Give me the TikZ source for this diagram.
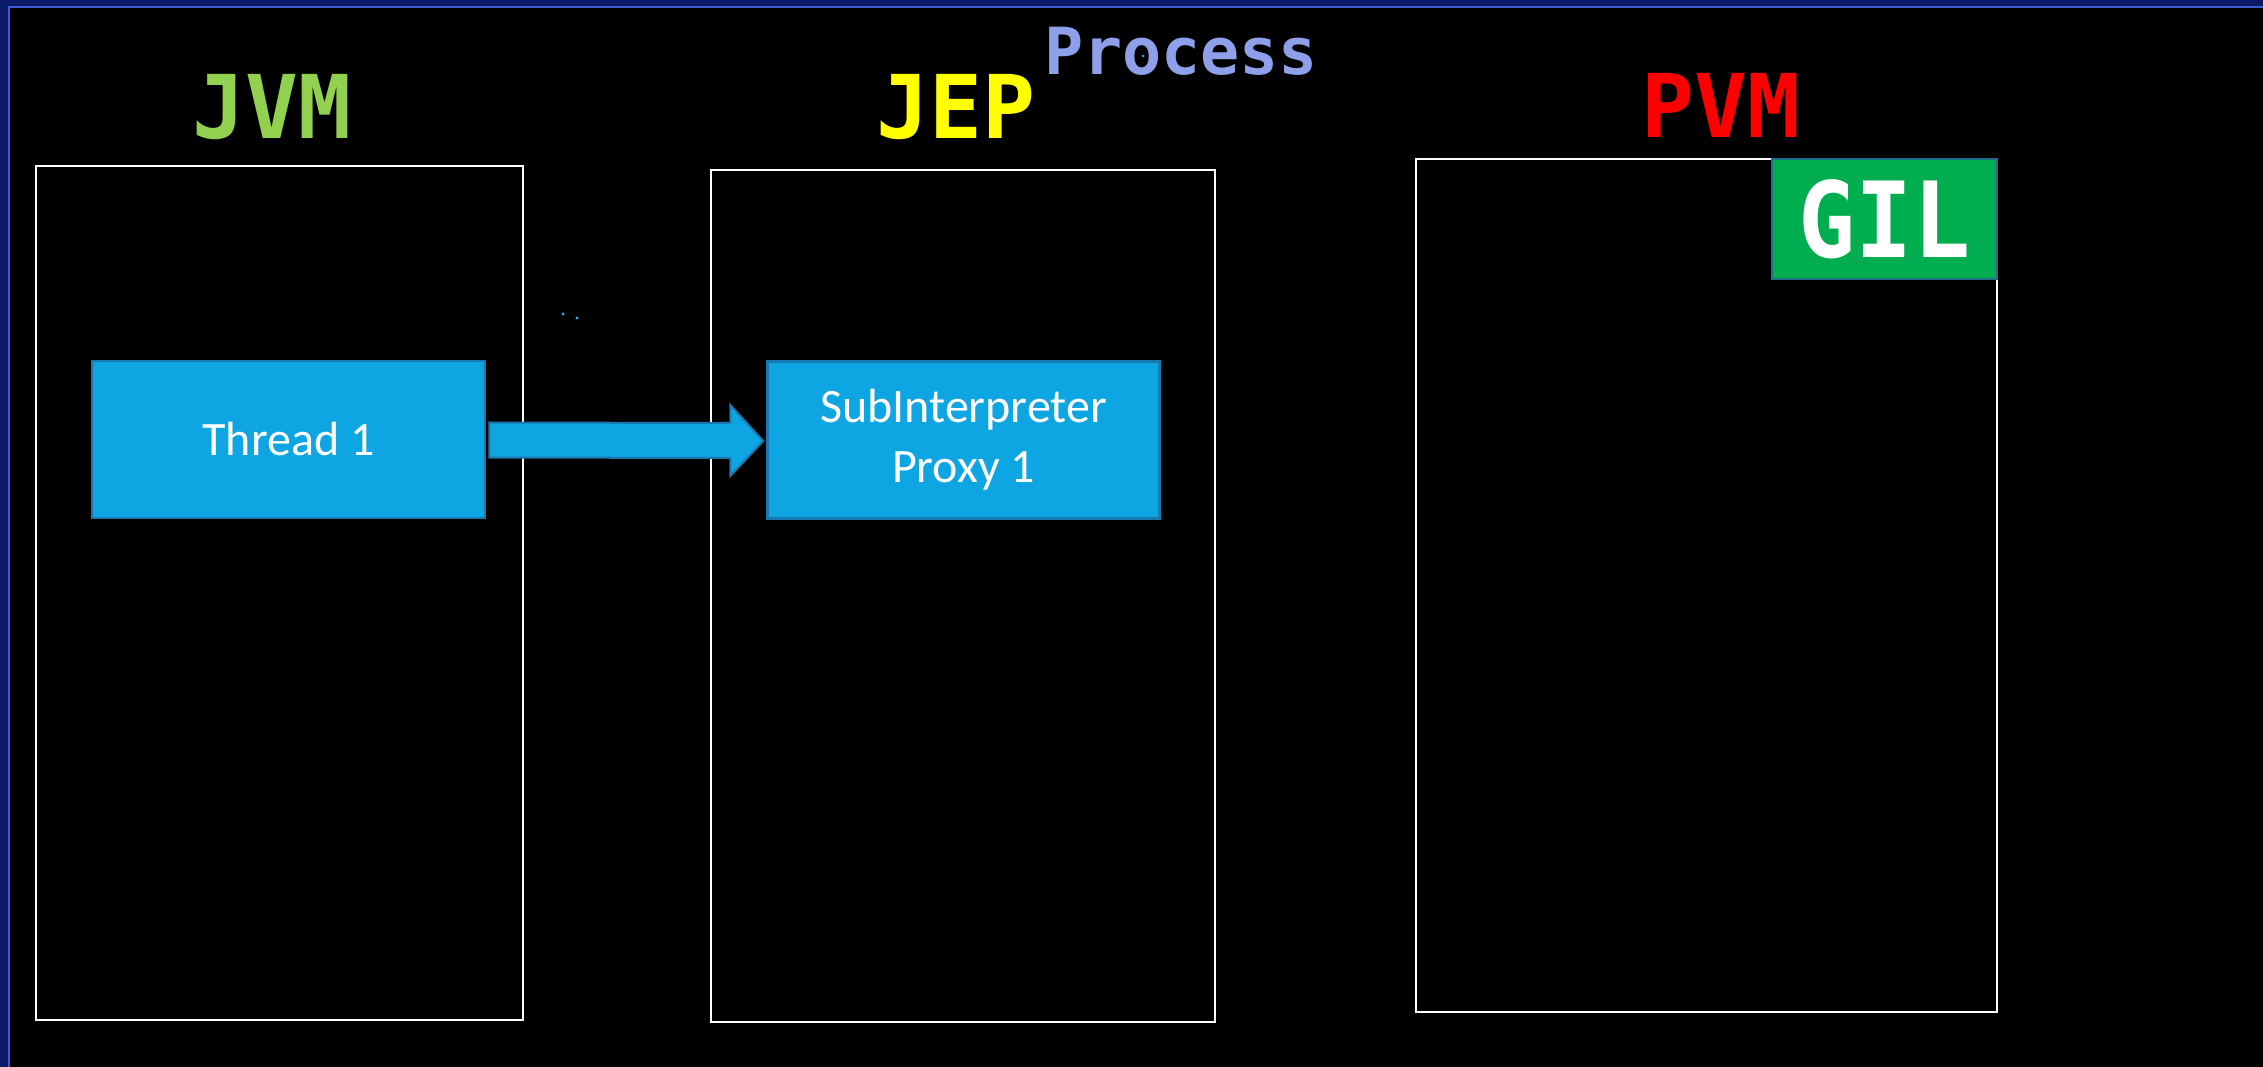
\documentclass[tikz,border=0pt]{standalone}
\usepackage{fontspec}
\setmainfont{Carlito}
\newfontfamily\monofont{DejaVu Sans Mono}
\usetikzlibrary{calc}
\definecolor{navy}{HTML}{0B1A66}
\definecolor{frameline}{HTML}{3D5BD0}
\definecolor{procc}{HTML}{8FA0EA}
\definecolor{jvmc}{HTML}{92D050}
\definecolor{jepc}{HTML}{FFFF00}
\definecolor{pvmc}{HTML}{FF0000}
\definecolor{gilfill}{HTML}{00AD4F}
\definecolor{gilline}{HTML}{1F6F8B}
\definecolor{blkfill}{HTML}{0EA5E3}
\definecolor{blkline}{HTML}{1A78B0}
\definecolor{dotc}{HTML}{29B6E8}
\tikzset{
  panel/.style={draw=white, line width=2.8pt, fill=black, minimum width=#1},
  blk/.style={draw=blkline, fill=blkfill, line width=2.5pt, text=white, align=center,
    font=\fontsize{48}{57}\selectfont, inner sep=0pt},
  title/.style={anchor=base, inner sep=0pt, font=\monofont\bfseries\fontsize{88}{100}\selectfont},
}
\begin{document}
\begin{tikzpicture}[x=1pt,y=-1pt]
\useasboundingbox (0,0) rectangle (2263,1067);
\fill[navy] (0,0) rectangle (2263,1067);
\fill[black] (9,7) rectangle (2263,1067);
\draw[frameline, line width=2.5pt] (9,1067) -- (9,7) -- (2263,7);
% panels
\node[panel=487pt, minimum height=854pt] (jvm) at (279.5,593) {};
\node[panel=504pt, minimum height=852pt] (jep) at (963,596) {};
\node[panel=581pt, minimum height=853pt] (pvm) at (1706.5,585.5) {};
% GIL
\node[draw=gilline, fill=gilfill, line width=2.5pt, minimum width=225pt, minimum height=120pt,
  text=white, font=\monofont\bfseries\fontsize{100}{110}\selectfont, inner sep=0pt] (gil) at (1884.5,219) {\scalebox{0.95}[1.05]{GIL}};
% titles
\node[title, text=jvmc] (tjvm) at (272,139) {JVM};
\node[title, text=jepc] (tjep) at (956,139) {JEP};
\node[title, text=pvmc] (tpvm) at (1721,138) {PVM};
\node[anchor=base, inner sep=0pt, text=procc, font=\monofont\bfseries\fontsize{65}{75}\selectfont] (tproc) at (1181,75) {Process};
% blocks
\node[blk, minimum width=393pt, minimum height=157pt] (t1) at (288.5,439.5) {Thread 1};
\node[blk, minimum width=392pt, minimum height=157pt] (s1) at (963.5,440) {SubInterpreter\\[3pt]Proxy 1};
% arrow
\draw[blkline, fill=blkfill, line width=2pt, line join=miter]
  ($(t1.east)+(3,-17)$) -- ($(s1.west)+(-36,-17)$) -- ($(s1.west)+(-36,-35)$)
  -- ($(s1.west)+(-3,1)$) -- ($(s1.west)+(-36,36)$) -- ($(s1.west)+(-36,18)$)
  -- ($(t1.east)+(3,18)$) -- cycle;
% stray dots
\fill[dotc] (563,314) circle (1.6);
\fill[dotc] (577,318) circle (1.6);
\fill[dotc] (1143,56) circle (1.4);
\end{tikzpicture}
\end{document}
